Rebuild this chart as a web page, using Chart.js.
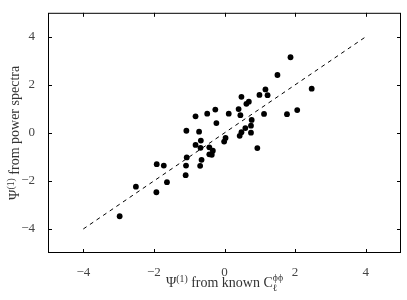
<!DOCTYPE html>
<html lang="en">
<head>
    <meta charset="UTF-8">
    <title>Psi from power spectra vs known C</title>
    <style>
        body {
            margin: 0;
            background: #fff;
        }
        #psiChart {
            display: block;
        }
    </style>
</head>
<body>

<canvas id="psiChart" width="407" height="300"></canvas>

<script src="https://cdn.jsdelivr.net/npm/chart.js"></script>
<script>
    // values
    const knownPsi = [
        -2.97, -2.51, -1.93, -1.63, -1.92, -1.72, -1.10, -1.09, -1.07, -0.69,
        -0.65, -0.68, -0.82, -0.67, -0.43, -0.33, -0.43, -0.36, -1.08, -0.72,
        -0.82, -0.49, -0.26, -0.23, 0.12, 0.40, 0.45, 0.48, 0.69, 0.62,
        0.99, 1.22, 1.16, 1.50, 1.87, 2.47, 2.06, 1.77, 1.12, 0.77,
        0.75, 0.59, 0.48, 0.75, 0.43, 0.03, -0.01, 0.93
    ];
    const spectraPsi = [
        -3.47, -2.24, -2.47, -2.05, -1.30, -1.36, -1.76, -1.36, -1.02, -1.37,
        -1.12, -0.62, -0.50, -0.32, -0.60, -0.74, -0.89, -0.91, 0.09, 0.05,
        0.69, 0.80, 0.97, 0.41, 0.80, 0.99, 0.74, 1.50, 1.30, 1.21,
        1.58, 1.57, 1.81, 2.41, 3.15, 1.84, 0.95, 0.78, 0.79, 0.54,
        0.30, 0.20, 0.03, 0.01, -0.12, -0.21, -0.36, -0.63
    ];
    const refLineX = [-4, 4];
    const refLineY = [-4, 4];
    const tickValues = [-4, -2, 0, 2, 4];

    const serif = "'Liberation Serif', 'DejaVu Serif', serif";

    function fmt(v) {
        return v < 0 ? '\u2212' + Math.abs(v) : String(v);
    }

    // draws a label made of pieces: normal text, superscripts and a stacked sub/sup
    function pieceWidth(ctx, p, size) {
        if (p.stack) {
            ctx.font = (size * 0.7) + 'px ' + serif;
            return Math.max(ctx.measureText(p.sup).width, ctx.measureText(p.sub).width);
        }
        ctx.font = (p.sup ? size * 0.7 : size) + 'px ' + serif;
        return ctx.measureText(p.text).width;
    }

    function drawPieces(ctx, pieces, size) {
        let total = 0;
        pieces.forEach(p => total += pieceWidth(ctx, p, size));
        let x = -total / 2;
        pieces.forEach(p => {
            const w = pieceWidth(ctx, p, size);
            if (p.stack) {
                ctx.font = (size * 0.7) + 'px ' + serif;
                ctx.fillText(p.sup, x, -size * 0.45);
                ctx.fillText(p.sub, x, size * 0.25);
            } else if (p.sup) {
                ctx.font = (size * 0.7) + 'px ' + serif;
                ctx.fillText(p.text, x, -size * 0.38);
            } else {
                ctx.font = size + 'px ' + serif;
                ctx.fillText(p.text, x, 0);
            }
            x += w;
        });
    }

    const framePlugin = {
        id: 'frame',
        afterDraw(chart) {
            const ctx = chart.ctx;
            const a = chart.chartArea;
            const xs = chart.scales.x, ys = chart.scales.y;
            ctx.save();
            ctx.strokeStyle = '#000';
            ctx.lineWidth = 1;
            ctx.strokeRect(a.left + 0.5, a.top + 0.5, a.right - a.left - 1, a.bottom - a.top - 1);

            // inward ticks on all four sides
            const len = 4;
            ctx.beginPath();
            tickValues.forEach(v => {
                const px = Math.round(xs.getPixelForValue(v)) + 0.5;
                ctx.moveTo(px, a.bottom); ctx.lineTo(px, a.bottom - len);
                ctx.moveTo(px, a.top); ctx.lineTo(px, a.top + len);
                const py = Math.round(ys.getPixelForValue(v)) + 0.5;
                ctx.moveTo(a.left, py); ctx.lineTo(a.left + len, py);
                ctx.moveTo(a.right, py); ctx.lineTo(a.right - len, py);
            });
            ctx.stroke();

            // axis titles
            ctx.fillStyle = '#333';
            ctx.textBaseline = 'alphabetic';
            ctx.textAlign = 'left';
            const size = 14;

            ctx.save();
            ctx.translate((a.left + a.right) / 2, 287);
            drawPieces(ctx, [
                { text: '\u03A8' },
                { text: '(1)', sup: true },
                { text: ' from known C' },
                { stack: true, sup: '\u03D5\u03D5', sub: '\u2113' }
            ], size);
            ctx.restore();

            ctx.save();
            ctx.translate(19, (a.top + a.bottom) / 2);
            ctx.rotate(-Math.PI / 2);
            drawPieces(ctx, [
                { text: '\u03A8' },
                { text: '(1)', sup: true },
                { text: ' from power spectra' }
            ], size);
            ctx.restore();

            ctx.restore();
        }
    };

    function setTicks(scale) {
        scale.ticks = tickValues.map(v => ({ value: v }));
    }

    const ctx = document.getElementById('psiChart').getContext('2d');
    new Chart(ctx, {
        type: 'scatter',
        data: {
            datasets: [{
                data: knownPsi.map((x, i) => ({ x: x, y: spectraPsi[i] })),
                backgroundColor: '#000',
                borderColor: '#000',
                pointRadius: 2.9,
                pointBorderWidth: 0
            }, {
                data: refLineX.map((x, i) => ({ x: x, y: refLineY[i] })),
                showLine: true,
                borderColor: '#000',
                borderWidth: 1,
                borderDash: [4, 4],
                pointRadius: 0
            }]
        },
        options: {
            responsive: false,
            animation: false,
            layout: { padding: { top: 5, right: 6, left: 0, bottom: 0 } },
            plugins: {
                legend: { display: false },
                tooltip: { enabled: false }
            },
            scales: {
                x: {
                    type: 'linear',
                    min: -5,
                    max: 5,
                    grid: { display: false },
                    border: { display: false },
                    afterBuildTicks: setTicks,
                    afterFit: s => { s.height = 47; },
                    ticks: {
                        padding: 4,
                        color: '#444',
                        font: { family: serif, size: 13 },
                        callback: v => fmt(v)
                    }
                },
                y: {
                    type: 'linear',
                    min: -5,
                    max: 5,
                    grid: { display: false },
                    border: { display: false },
                    afterBuildTicks: setTicks,
                    afterFit: s => { s.width = 48; },
                    ticks: {
                        padding: 5,
                        color: '#444',
                        font: { family: serif, size: 13 },
                        callback: v => fmt(v)
                    }
                }
            }
        },
        plugins: [framePlugin]
    });
</script>

</body>
</html>
